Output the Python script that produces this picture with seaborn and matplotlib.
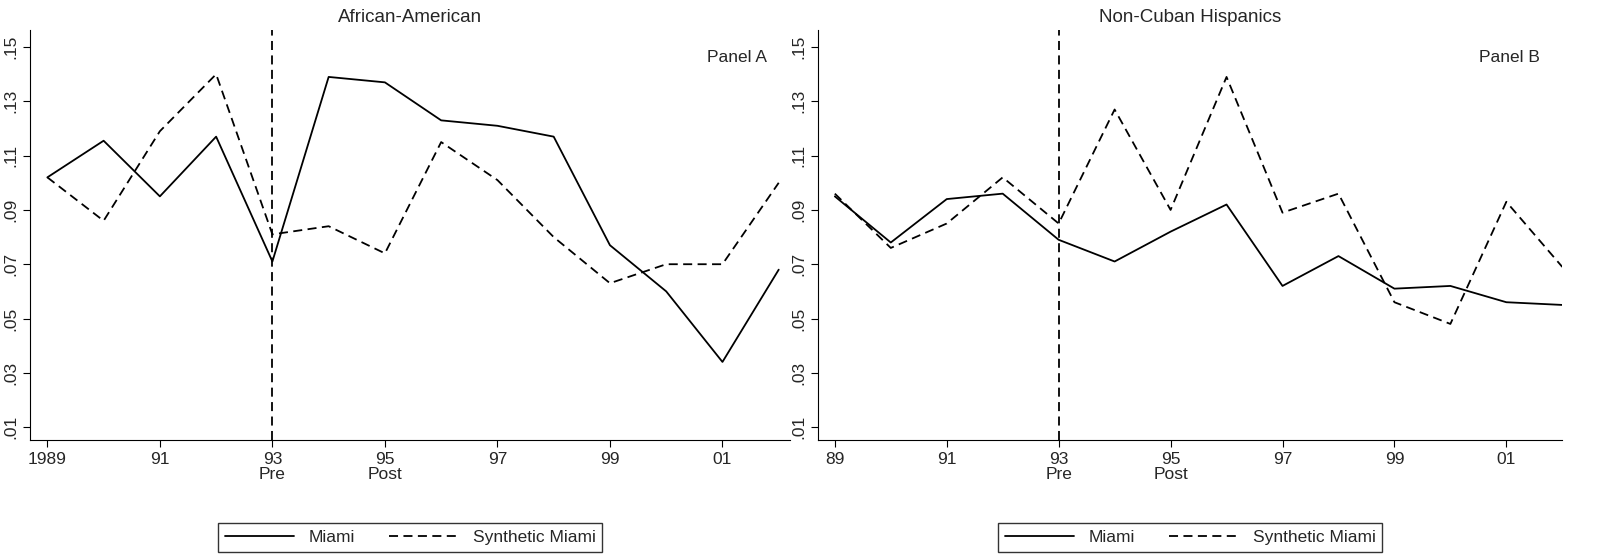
import matplotlib
matplotlib.use("Agg")
import matplotlib.pyplot as plt
import seaborn as sns
import pandas as pd

years = list(range(1989, 2003))
miami_a = [0.102, 0.1155, 0.095, 0.117, 0.071, 0.139, 0.137, 0.123, 0.121, 0.117, 0.077, 0.060, 0.034, 0.068]
synth_a = [0.102, 0.086, 0.119, 0.140, 0.081, 0.084, 0.074, 0.115, 0.101, 0.080, 0.063, 0.070, 0.070, 0.100]
miami_b = [0.095, 0.078, 0.094, 0.096, 0.079, 0.071, 0.082, 0.092, 0.062, 0.073, 0.061, 0.062, 0.056, 0.055]
synth_b = [0.096, 0.076, 0.085, 0.102, 0.085, 0.127, 0.090, 0.139, 0.089, 0.096, 0.056, 0.048, 0.093, 0.069]
yticks = [0.01, 0.03, 0.05, 0.07, 0.09, 0.11, 0.13, 0.15]
ytick_labels = [".01", ".03", ".05", ".07", ".09", ".11", ".13", ".15"]
xticks = [1989, 1991, 1993, 1995, 1997, 1999, 2001]
xlab_a = ["1989", "91", "93\nPre", "95\nPost", "97", "99", "01"]
xlab_b = ["89", "91", "93\nPre", "95\nPost", "97", "99", "01"]

sns.set_style("white")
plt.rcParams['font.family'] = ['Liberation Sans', 'DejaVu Sans']
fig = plt.figure(figsize=(16.04, 5.55), dpi=100)
axA = fig.add_axes([0.019, 0.207, 0.4735, 0.739])
axB = fig.add_axes([0.51, 0.207, 0.464, 0.739])

panels = [(axA, miami_a, synth_a, "African-American", "Panel A", xlab_a, 2002.2),
          (axB, miami_b, synth_b, "Non-Cuban Hispanics", "Panel B", xlab_b, 2002.0)]
for ax, m, s, title, pl, xl, xr in panels:
    df = pd.DataFrame({"year": years + years, "val": m + s,
                       "series": ["Miami"] * len(years) + ["Synthetic Miami"] * len(years)})
    sns.lineplot(data=df, x="year", y="val", style="series", color="black", lw=1.3,
                 dashes={"Miami": "", "Synthetic Miami": (5, 3)}, ax=ax, legend=False)
    ax.axvline(1993, color="black", ls=(0, (5, 3)), lw=1.3)
    ax.set_xlim(1988.7, xr)
    ax.set_ylim(0.0052, 0.1563)
    ax.set_yticks(yticks)
    ax.set_yticklabels(ytick_labels, rotation=90, va="center", fontsize=12.5)
    ax.set_xticks(xticks)
    ax.set_xticklabels(xl, fontsize=12.5, linespacing=1.0)
    ax.tick_params(axis="both", direction="out", length=5, color="black", left=True, bottom=True)
    ax.set_xlabel("")
    ax.set_ylabel("")
    for sp in ["top", "right"]:
        ax.spines[sp].set_visible(False)
    for sp in ["left", "bottom"]:
        ax.spines[sp].set_color("black")
    ax.set_title(title, fontsize=13.5)
    ax.text(0.97, 0.95, pl, transform=ax.transAxes, ha="right", va="top", fontsize=12.5)
    h1, = ax.plot([], [], color="black", lw=1.3)
    h2, = ax.plot([], [], color="black", lw=1.3, ls=(0, (5, 3)))
    leg = ax.legend([h1, h2], ["Miami", "Synthetic Miami"], ncol=2, loc="upper center",
                    bbox_to_anchor=(0.5, -0.18), frameon=True, fancybox=False,
                    edgecolor="black", fontsize=12.5, handlelength=4, columnspacing=2)
    leg.get_frame().set_linewidth(1.0)

fig.savefig("out.png", dpi=100)
